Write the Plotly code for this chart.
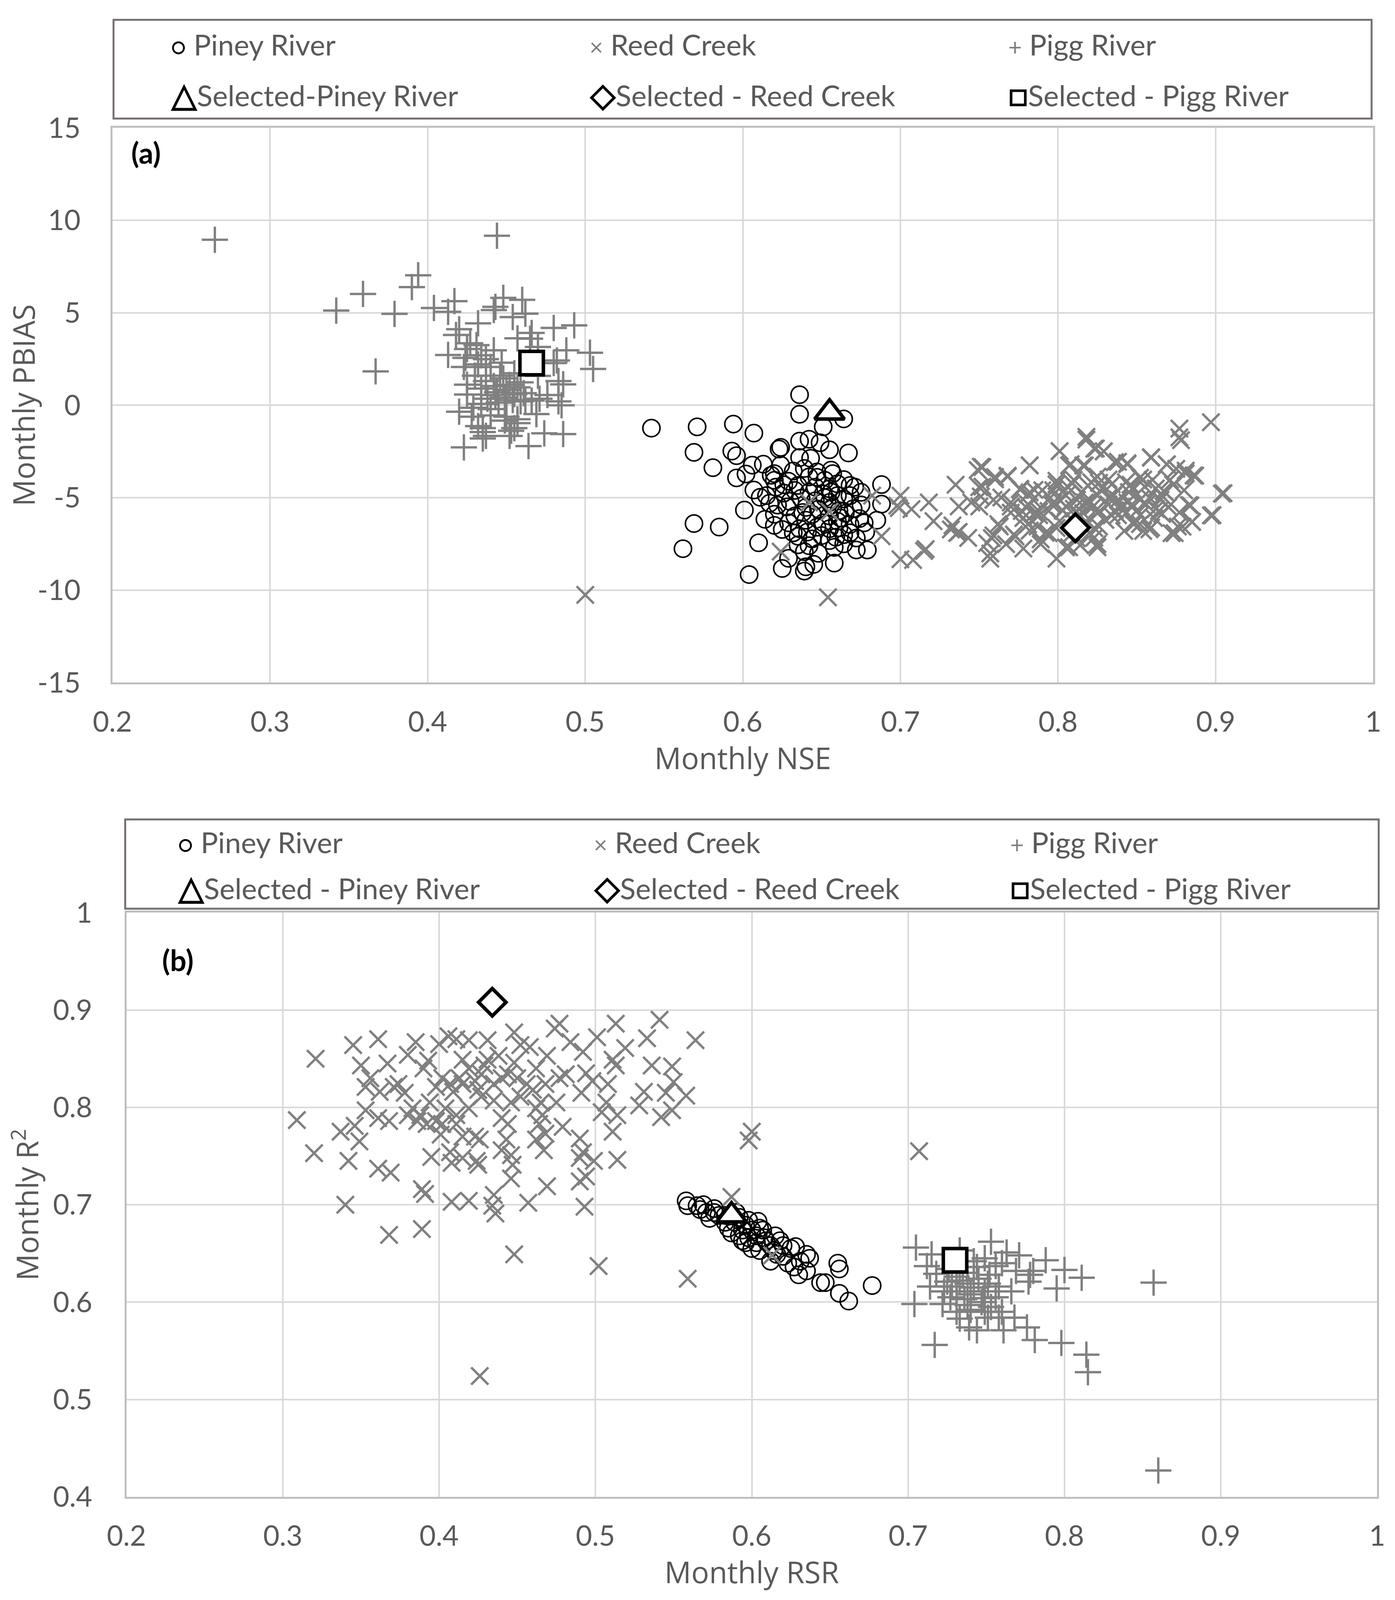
import plotly.graph_objects as go

# ---- panel (a): monthly NSE (x) vs monthly PBIAS (y) ----
PINEY_A = [
    (0.636, 0.57), (0.636, -0.49), (0.664, -0.74), (0.651, -1.17), (0.542, -1.24), (0.571, -1.17),
    (0.594, -1.02), (0.607, -1.51), (0.636, -1.94), (0.642, -1.84), (0.649, -2.03), (0.655, -2.41),
    (0.667, -2.58), (0.569, -2.55), (0.593, -2.48), (0.596, -2.73), (0.623, -2.37), (0.624, -2.28),
    (0.636, -2.83), (0.643, -2.87), (0.581, -3.38), (0.606, -3.24), (0.613, -3.19), (0.624, -3.24),
    (0.596, -3.93), (0.602, -3.72), (0.618, -3.79), (0.620, -4.06), (0.632, -3.56), (0.639, -3.42),
    (0.647, -3.61), (0.656, -3.51), (0.657, -3.70), (0.664, -4.02), (0.688, -4.29), (0.607, -4.59),
    (0.626, -4.75), (0.637, -5.03), (0.635, -4.34), (0.646, -4.43), (0.655, -4.52), (0.671, -4.43),
    (0.675, -4.71), (0.611, -4.98), (0.615, -4.89), (0.646, -5.17), (0.655, -5.26), (0.664, -5.07),
    (0.688, -5.35), (0.675, -5.39), (0.628, -5.50), (0.601, -5.67), (0.620, -5.90), (0.614, -6.17),
    (0.644, -5.90), (0.655, -5.99), (0.665, -5.85), (0.640, -6.22), (0.629, -6.36), (0.674, -6.13),
    (0.685, -6.22), (0.677, -6.36), (0.569, -6.40), (0.585, -6.59), (0.620, -6.50), (0.636, -6.68),
    (0.655, -6.68), (0.661, -6.63), (0.668, -6.45), (0.625, -6.72), (0.641, -6.86), (0.678, -6.86),
    (0.650, -7.05), (0.659, -7.14), (0.672, -7.18), (0.610, -7.44), (0.635, -7.55), (0.664, -7.50),
    (0.658, -7.69), (0.672, -7.83), (0.679, -7.83), (0.562, -7.76), (0.648, -8.01), (0.639, -7.92),
    (0.629, -8.28), (0.658, -8.54), (0.625, -8.83), (0.645, -8.61), (0.639, -8.97), (0.640, -8.74),
    (0.604, -9.16), (0.633, -4.61), (0.642, -4.71), (0.651, -4.80), (0.660, -4.89), (0.668, -4.89),
    (0.640, -5.53), (0.648, -5.62), (0.657, -5.53), (0.633, -5.99), (0.651, -6.36), (0.660, -6.27),
    (0.635, -7.09), (0.644, -7.23), (0.655, -7.32), (0.664, -7.00), (0.620, -3.70), (0.629, -4.11),
    (0.642, -3.88), (0.652, -4.06), (0.660, -4.25), (0.668, -4.34), (0.621, -4.43), (0.630, -5.20),
    (0.638, -5.80), (0.647, -6.60), (0.652, -5.00), (0.661, -5.70), (0.668, -6.90), (0.622, -5.40),
    (0.632, -6.90), (0.642, -7.60), (0.656, -4.70), (0.670, -5.60), (0.626, -4.30), (0.617, -5.30),
    (0.647, -3.90), (0.662, -6.10),
]

REED_A = [
    (0.642, -5.26), (0.655, -5.76), (0.624, -7.92), (0.654, -10.39), (0.500, -10.26), (0.682, -4.89),
    (0.700, -4.89), (0.718, -5.26), (0.699, -5.56), (0.707, -5.62), (0.688, -7.09), (0.716, -7.78),
    (0.700, -8.33), (0.708, -8.37), (0.721, -6.27), (0.732, -6.72), (0.736, -6.91), (0.743, -7.18),
    (0.897, -0.92), (0.877, -1.26), (0.877, -1.74), (0.818, -1.71), (0.801, -2.48), (0.823, -2.35),
    (0.829, -2.50), (0.859, -2.81), (0.782, -3.25), (0.751, -3.33), (0.749, -3.50), (0.808, -3.19),
    (0.817, -3.26), (0.838, -3.06), (0.844, -3.19), (0.869, -3.19), (0.881, -3.54), (0.887, -3.81),
    (0.760, -3.88), (0.768, -3.81), (0.735, -4.30), (0.750, -4.43), (0.776, -4.57), (0.782, -4.71),
    (0.799, -4.09), (0.809, -4.23), (0.821, -4.16), (0.832, -4.02), (0.846, -4.30), (0.854, -4.02),
    (0.862, -4.50), (0.868, -4.71), (0.904, -4.78), (0.698, -5.43), (0.737, -5.47), (0.745, -5.26),
    (0.764, -4.99), (0.770, -5.26), (0.780, -5.54), (0.788, -5.74), (0.797, -5.26), (0.805, -5.47),
    (0.817, -5.26), (0.825, -5.61), (0.836, -5.68), (0.844, -5.26), (0.852, -5.12), (0.862, -5.61),
    (0.883, -5.40), (0.898, -5.95), (0.885, -6.30), (0.733, -6.50), (0.737, -6.85), (0.762, -6.43),
    (0.758, -7.19), (0.772, -6.99), (0.782, -6.78), (0.799, -6.64), (0.809, -6.92), (0.823, -6.64),
    (0.825, -7.68), (0.807, -7.68), (0.789, -7.26), (0.799, -8.30), (0.757, -8.30), (0.757, -8.02),
    (0.715, -7.88), (0.852, -6.43), (0.858, -6.71), (0.872, -6.92), (0.866, -5.88), (0.838, -5.95),
    (0.813, -5.95), (0.788, -5.95), (0.770, -5.81), (0.879, -6.57),
    (0.752, -3.35), (0.782, -3.26), (0.801, -2.49), (0.818, -1.86), (0.824, -2.34), (0.829, -2.49),
    (0.878, -1.89), (0.859, -2.84), (0.760, -4.01), (0.768, -3.86), (0.776, -4.52), (0.781, -4.82),
    (0.785, -4.58), (0.752, -4.40), (0.751, -4.94), (0.759, -5.12), (0.750, -5.48), (0.770, -5.48),
    (0.777, -5.72), (0.785, -5.84), (0.794, -5.72), (0.799, -4.28), (0.807, -3.26), (0.816, -3.26),
    (0.810, -4.04), (0.819, -4.34), (0.825, -3.86), (0.836, -3.08), (0.844, -3.14), (0.834, -4.28),
    (0.843, -4.16), (0.847, -4.52), (0.852, -3.92), (0.860, -4.04), (0.869, -3.20), (0.875, -3.44),
    (0.881, -3.68), (0.886, -3.80), (0.867, -4.64), (0.865, -5.12), (0.871, -4.04), (0.905, -4.76),
    (0.884, -5.42), (0.897, -5.96), (0.885, -6.32), (0.876, -6.56), (0.874, -6.92), (0.859, -6.62),
    (0.854, -6.80), (0.848, -6.44), (0.864, -5.72), (0.856, -5.36), (0.847, -5.36), (0.838, -5.12),
    (0.832, -5.36), (0.825, -4.88), (0.819, -5.24), (0.812, -5.12), (0.805, -4.88), (0.801, -5.12),
    (0.796, -5.36), (0.825, -5.84), (0.834, -5.96), (0.816, -5.84), (0.810, -5.60), (0.843, -5.84),
    (0.852, -5.96), (0.826, -6.56), (0.823, -7.16), (0.825, -7.51), (0.814, -7.57), (0.805, -7.69),
    (0.794, -6.92), (0.787, -6.56), (0.781, -6.44), (0.773, -7.10), (0.763, -6.56), (0.759, -7.04),
    (0.755, -7.46), (0.767, -7.51), (0.789, -7.51), (0.778, -7.75), (0.801, -6.26), (0.832, -5.00),
    (0.781, -5.36), (0.790, -4.60), (0.795, -5.00), (0.803, -5.70), (0.808, -6.10), (0.815, -4.70),
    (0.818, -6.30), (0.822, -5.50), (0.828, -4.50), (0.830, -6.20), (0.835, -4.90), (0.840, -5.50),
    (0.842, -6.80), (0.845, -4.70), (0.850, -5.70), (0.855, -4.40), (0.858, -5.00), (0.861, -6.10),
    (0.866, -4.90), (0.870, -5.50), (0.873, -4.30), (0.877, -5.80), (0.880, -4.60), (0.784, -5.10),
    (0.778, -6.10), (0.792, -6.90), (0.812, -7.20), (0.820, -6.90), (0.797, -4.60), (0.806, -4.40),
    (0.826, -4.20),
]

PIGG_A = [
    (0.265, 8.95), (0.444, 9.17), (0.394, 7.03), (0.390, 6.39), (0.359, 6.02), (0.342, 5.12),
    (0.379, 4.94), (0.417, 5.63), (0.404, 5.26), (0.413, 5.05), (0.448, 5.81), (0.460, 5.70),
    (0.442, 5.15), (0.443, 5.32), (0.454, 4.77), (0.462, 4.95), (0.432, 4.43), (0.420, 4.11),
    (0.418, 3.80), (0.480, 4.18), (0.493, 4.32), (0.466, 3.91), (0.457, 3.62), (0.465, 3.60),
    (0.427, 3.35), (0.431, 3.25), (0.425, 3.04), (0.470, 3.15), (0.413, 2.72), (0.488, 2.97),
    (0.503, 2.84), (0.442, 2.97), (0.434, 2.70), (0.424, 2.56), (0.437, 2.49), (0.482, 2.42),
    (0.480, 2.28), (0.423, 2.07), (0.432, 2.21), (0.440, 2.07), (0.505, 1.96), (0.367, 1.83),
    (0.455, 1.73), (0.470, 1.59), (0.448, 1.45), (0.437, 1.31), (0.425, 1.11), (0.483, 1.31),
    (0.486, 1.13), (0.459, 1.24), (0.442, 1.04), (0.434, 0.90), (0.450, 0.83), (0.457, 0.97),
    (0.425, 0.58), (0.443, 0.55), (0.449, 0.41), (0.476, 0.55), (0.471, 0.35), (0.462, 0.28),
    (0.454, 0.28), (0.459, 0.21), (0.466, 0.25), (0.483, 0.21), (0.485, 0.00), (0.445, 0.14),
    (0.434, 0.07), (0.429, -0.14), (0.440, -0.21), (0.420, -0.35), (0.469, -0.48), (0.428, -0.62),
    (0.450, -0.62), (0.440, -0.55), (0.457, -0.76), (0.449, -0.83), (0.457, -0.97), (0.435, -1.24),
    (0.432, -1.13), (0.455, -1.24), (0.435, -1.45), (0.453, -1.38), (0.474, -1.52), (0.486, -1.56),
    (0.437, -1.66), (0.452, -1.66), (0.435, -1.80), (0.423, -2.28), (0.464, -2.21), (0.446, 1.60),
    (0.452, 1.10), (0.444, 0.70), (0.438, 0.35), (0.455, 0.60), (0.461, 0.65), (0.430, 1.60),
    (0.447, 2.30),
]

# ---- panel (b): monthly RSR (x) vs monthly R2 (y) ----
PINEY_B = [
    (0.558, 0.704), (0.559, 0.699), (0.567, 0.695), (0.571, 0.692), (0.576, 0.692), (0.573, 0.686),
    (0.579, 0.689), (0.585, 0.676), (0.592, 0.687), (0.596, 0.679), (0.600, 0.674), (0.604, 0.683),
    (0.598, 0.666), (0.603, 0.661), (0.607, 0.674), (0.608, 0.666), (0.605, 0.653), (0.612, 0.658),
    (0.615, 0.668), (0.616, 0.649), (0.612, 0.642), (0.620, 0.658), (0.625, 0.655), (0.628, 0.657),
    (0.623, 0.640), (0.627, 0.636), (0.635, 0.649), (0.637, 0.645), (0.631, 0.642), (0.630, 0.628),
    (0.635, 0.632), (0.644, 0.620), (0.647, 0.620), (0.655, 0.640), (0.656, 0.634), (0.656, 0.609),
    (0.662, 0.601), (0.677, 0.617), (0.576, 0.696), (0.583, 0.689), (0.589, 0.682), (0.594, 0.674),
    (0.587, 0.671), (0.596, 0.661), (0.600, 0.655), (0.592, 0.668), (0.583, 0.682), (0.590, 0.692),
    (0.565, 0.699), (0.569, 0.700), (0.605, 0.676), (0.609, 0.663), (0.618, 0.663), (0.614, 0.653),
    (0.620, 0.647), (0.598, 0.684), (0.594, 0.663), (0.603, 0.668),
]

REED_B = [
    (0.321, 0.850), (0.309, 0.787), (0.320, 0.753), (0.345, 0.864), (0.361, 0.870), (0.350, 0.843),
    (0.353, 0.821), (0.356, 0.830), (0.353, 0.797), (0.346, 0.781), (0.337, 0.775), (0.349, 0.765),
    (0.342, 0.745), (0.340, 0.700), (0.361, 0.737), (0.369, 0.733), (0.361, 0.789), (0.368, 0.786),
    (0.362, 0.816), (0.367, 0.845), (0.371, 0.821), (0.374, 0.824), (0.378, 0.815), (0.380, 0.854),
    (0.385, 0.867), (0.393, 0.848), (0.390, 0.840), (0.383, 0.799), (0.388, 0.792), (0.392, 0.783),
    (0.386, 0.786), (0.394, 0.805), (0.402, 0.830), (0.398, 0.821), (0.400, 0.865), (0.406, 0.873),
    (0.411, 0.870), (0.419, 0.869), (0.431, 0.869), (0.415, 0.849), (0.419, 0.840), (0.413, 0.830),
    (0.423, 0.827), (0.429, 0.843), (0.427, 0.811), (0.419, 0.799), (0.411, 0.792), (0.404, 0.799),
    (0.402, 0.783), (0.411, 0.783), (0.415, 0.770), (0.401, 0.772), (0.395, 0.749), (0.389, 0.716),
    (0.391, 0.711), (0.407, 0.754), (0.408, 0.743), (0.415, 0.748), (0.423, 0.770), (0.426, 0.767),
    (0.424, 0.745), (0.425, 0.741), (0.408, 0.703), (0.419, 0.704), (0.435, 0.710), (0.434, 0.699),
    (0.436, 0.691), (0.368, 0.669), (0.389, 0.675), (0.448, 0.649), (0.426, 0.524), (0.502, 0.637),
    (0.559, 0.624), (0.587, 0.708), (0.438, 0.853), (0.440, 0.830), (0.444, 0.834), (0.448, 0.877),
    (0.452, 0.864), (0.458, 0.862), (0.448, 0.846), (0.456, 0.824), (0.446, 0.805), (0.440, 0.789),
    (0.444, 0.783), (0.443, 0.767), (0.440, 0.756), (0.446, 0.751), (0.447, 0.741), (0.446, 0.727),
    (0.457, 0.702), (0.462, 0.840), (0.469, 0.853), (0.474, 0.881), (0.477, 0.886), (0.468, 0.824),
    (0.462, 0.799), (0.466, 0.792), (0.464, 0.783), (0.468, 0.773), (0.462, 0.767), (0.467, 0.756),
    (0.469, 0.719), (0.477, 0.830), (0.481, 0.834), (0.475, 0.805), (0.479, 0.780), (0.484, 0.867),
    (0.492, 0.857), (0.494, 0.835), (0.491, 0.815), (0.490, 0.768), (0.492, 0.754), (0.490, 0.748),
    (0.494, 0.729), (0.490, 0.724), (0.493, 0.698), (0.499, 0.745), (0.501, 0.872), (0.498, 0.827),
    (0.504, 0.795), (0.507, 0.805), (0.508, 0.824), (0.513, 0.886), (0.511, 0.849), (0.513, 0.843),
    (0.514, 0.792), (0.511, 0.775), (0.514, 0.746), (0.519, 0.861), (0.528, 0.802), (0.531, 0.816),
    (0.533, 0.871), (0.536, 0.843), (0.541, 0.890), (0.545, 0.815), (0.542, 0.790), (0.549, 0.842),
    (0.550, 0.826), (0.549, 0.797), (0.558, 0.812), (0.564, 0.869), (0.407, 0.824), (0.409, 0.816),
    (0.415, 0.824), (0.427, 0.834), (0.431, 0.849), (0.425, 0.818), (0.435, 0.824), (0.435, 0.807),
    (0.450, 0.830), (0.452, 0.811), (0.460, 0.818), (0.465, 0.805), (0.380, 0.792), (0.398, 0.786),
    (0.600, 0.775), (0.598, 0.766), (0.707, 0.755), (0.613, 0.648),
]

PIGG_B = [
    (0.753, 0.662), (0.705, 0.656), (0.715, 0.649), (0.733, 0.653), (0.763, 0.651), (0.771, 0.648),
    (0.788, 0.643), (0.712, 0.637), (0.742, 0.642), (0.749, 0.645), (0.756, 0.637), (0.760, 0.640),
    (0.780, 0.632), (0.778, 0.628), (0.800, 0.633), (0.811, 0.625), (0.777, 0.621), (0.857, 0.620),
    (0.795, 0.614), (0.766, 0.611), (0.718, 0.629), (0.725, 0.621), (0.731, 0.626), (0.738, 0.619),
    (0.745, 0.624), (0.751, 0.619), (0.758, 0.616), (0.769, 0.632), (0.714, 0.616), (0.723, 0.611),
    (0.731, 0.611), (0.740, 0.608), (0.749, 0.611), (0.756, 0.605), (0.727, 0.605), (0.736, 0.603),
    (0.704, 0.598), (0.722, 0.598), (0.731, 0.590), (0.740, 0.592), (0.749, 0.590), (0.753, 0.595),
    (0.760, 0.590), (0.758, 0.584), (0.733, 0.583), (0.768, 0.584), (0.776, 0.574), (0.739, 0.574),
    (0.744, 0.571), (0.761, 0.571), (0.781, 0.561), (0.798, 0.558), (0.717, 0.556), (0.814, 0.546),
    (0.815, 0.528), (0.860, 0.427), (0.751, 0.584), (0.735, 0.630), (0.742, 0.615), (0.747, 0.600),
    (0.728, 0.616), (0.738, 0.597), (0.752, 0.628), (0.744, 0.636), (0.733, 0.622), (0.726, 0.634),
    (0.748, 0.604),
]

# selected parameter sets (a) and (b)
SEL_PINEY_A, SEL_REED_A, SEL_PIGG_A = (0.655, -0.4), (0.811, -6.63), (0.466, 2.28)
SEL_PINEY_B, SEL_REED_B, SEL_PIGG_B = (0.587, 0.689), (0.434, 0.908), (0.730, 0.643)

X_TICKS = [0.2, 0.3, 0.4, 0.5, 0.6, 0.7, 0.8, 0.9, 1.0]
X_TICKTEXT = ["0.2", "0.3", "0.4", "0.5", "0.6", "0.7", "0.8", "0.9", "1"]
PBIAS_TICKS = [-15, -10, -5, 0, 5, 10, 15]
PBIAS_TICKTEXT = ["-15", "-10", "-5", "0", "5", "10", "15"]
R2_TICKS = [0.4, 0.5, 0.6, 0.7, 0.8, 0.9, 1.0]
R2_TICKTEXT = ["0.4", "0.5", "0.6", "0.7", "0.8", "0.9", "1"]

GREY = "#808080"
TEXT = "#595959"
TICK_FONT = dict(family="Lato, Liberation Sans, sans-serif", size=72, color=TEXT)
TITLE_FONT = dict(family="Open Sans, sans-serif", size=76, color=TEXT)
LEGEND_SIZE = 74

styles = {
    "Piney River": dict(symbol="circle-open", size=44, color="black", line=dict(width=4)),
    "Reed Creek": dict(symbol="x-thin-open", size=44, color=GREY, line=dict(width=6)),
    "Pigg River": dict(symbol="cross-thin-open", size=48, color=GREY, line=dict(width=6)),
}
sel_styles = {
    "Piney River": dict(symbol="triangle-up", size=66),
    "Reed Creek": dict(symbol="diamond", size=54),
    "Pigg River": dict(symbol="square", size=60),
}


def pts(pairs):
    return [p[0] for p in pairs], [p[1] for p in pairs]


fig = go.Figure()

panels = [
    ("x", "y", {"Piney River": PINEY_A, "Reed Creek": REED_A, "Pigg River": PIGG_A},
     {"Piney River": SEL_PINEY_A, "Reed Creek": SEL_REED_A, "Pigg River": SEL_PIGG_A}),
    ("x2", "y2", {"Piney River": PINEY_B, "Reed Creek": REED_B, "Pigg River": PIGG_B},
     {"Piney River": SEL_PINEY_B, "Reed Creek": SEL_REED_B, "Pigg River": SEL_PIGG_B}),
]

for xa, ya, series, selected in panels:
    for name, data in series.items():
        xs, ys = pts(data)
        fig.add_trace(go.Scatter(x=xs, y=ys, mode="markers", name=name, xaxis=xa, yaxis=ya,
                                 marker=styles[name], showlegend=False))
    for name, (sx, sy) in selected.items():
        fig.add_trace(go.Scatter(x=[sx], y=[sy], mode="markers", name="Selected - " + name,
                                 xaxis=xa, yaxis=ya, showlegend=False,
                                 marker=dict(color="white", line=dict(color="black", width=9),
                                             **sel_styles[name])))

axis_common = dict(showgrid=True, gridcolor="#d9d9d9", gridwidth=4, zeroline=False,
                   showline=True, mirror=True, linecolor="#bfbfbf", linewidth=5,
                   ticks="", tickfont=TICK_FONT, automargin=False)

# no fixed size: the figure fills the browser window
fig.update_layout(
    autosize=True,
    margin=dict(l=0, r=0, t=0, b=0),
    paper_bgcolor="white", plot_bgcolor="white",
    xaxis=dict(domain=[0.0787, 0.9866], range=[0.2, 1.0], tickvals=X_TICKS, ticktext=X_TICKTEXT,
               anchor="y", ticklabelstandoff=34,
               title=dict(text="Monthly NSE", font=TITLE_FONT, standoff=30), **axis_common),
    yaxis=dict(domain=[0.5737, 0.9217], range=[-15, 15], tickvals=PBIAS_TICKS, ticktext=PBIAS_TICKTEXT,
               anchor="x", ticklabelstandoff=62,
               title=dict(text="Monthly PBIAS", font=TITLE_FONT, standoff=0), **axis_common),
    xaxis2=dict(domain=[0.0888, 0.9894], range=[0.2, 1.0], tickvals=X_TICKS, ticktext=X_TICKTEXT,
                anchor="y2", ticklabelstandoff=34,
                title=dict(text="Monthly RSR", font=TITLE_FONT, standoff=30), **axis_common),
    yaxis2=dict(domain=[0.0628, 0.4293], range=[0.4, 1.0], tickvals=R2_TICKS, ticktext=R2_TICKTEXT,
                anchor="x2", ticklabelstandoff=68,
                title=dict(text="Monthly R<sup>2</sup>", font=TITLE_FONT, standoff=14), **axis_common),
)

# panel letters
for txt, px, py in [("(a)", 0.103, 0.9062), ("(b)", 0.126, 0.3997)]:
    fig.add_annotation(text="<b>%s</b>" % txt, x=px, y=py, xref="paper", yref="paper",
                       xanchor="center", yanchor="middle", showarrow=False,
                       font=dict(family="Lato, sans-serif", size=74, color="black"))

# legend boxes drawn as text entries inside a framed rectangle
legend_boxes = [
    dict(x0=0.0795, x1=0.9854, y0=0.9276, y1=0.9895, rows=(0.9742, 0.9433),
         cols=(0.1201, 0.4217, 0.7233),
         sel_names=("Selected-Piney River", "Selected - Reed Creek", "Selected - Pigg River")),
    dict(x0=0.0879, x1=0.9905, y0=0.4318, y1=0.4878, rows=(0.4736, 0.4456),
         cols=(0.1252, 0.4248, 0.7247),
         sel_names=("Selected - Piney River", "Selected - Reed Creek", "Selected - Pigg River")),
]
series_names = ["Piney River", "Reed Creek", "Pigg River"]
legend_symbols = {
    "Piney River": ("\u25cb", "black", "\u25b3"),
    "Reed Creek": ("\u00d7", GREY, "\u25c7"),
    "Pigg River": ("+", GREY, "\u25a1"),
}

for box in legend_boxes:
    fig.add_shape(type="rect", xref="paper", yref="paper", x0=box["x0"], x1=box["x1"],
                  y0=box["y0"], y1=box["y1"], line=dict(color="#767171", width=5),
                  fillcolor="white", layer="below")
    for j, name in enumerate(series_names):
        sym, col, sel_sym = legend_symbols[name]
        fig.add_annotation(
            text="<span style='color:%s;font-size:60px'>%s</span> %s" % (col, sym, name),
            x=box["cols"][j], y=box["rows"][0], xref="paper", yref="paper",
            xanchor="left", yanchor="middle", showarrow=False,
            font=dict(family="Lato, sans-serif", size=LEGEND_SIZE, color=TEXT))
        fig.add_annotation(
            text="<span style='color:black;font-size:84px'><b>%s</b></span>%s" % (sel_sym, box["sel_names"][j]),
            x=box["cols"][j], y=box["rows"][1], xref="paper", yref="paper",
            xanchor="left", yanchor="middle", showarrow=False,
            font=dict(family="Lato, sans-serif", size=LEGEND_SIZE, color=TEXT))

fig.write_html("out.html")
